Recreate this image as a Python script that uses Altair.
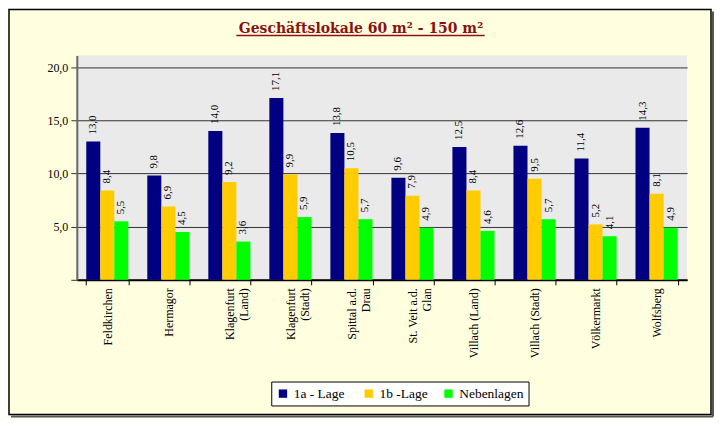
import altair as alt
import pandas as pd

NB = "\u00a0"
categories = ["Feldkirchen", "Hermagor", "Klagenfurt|(Land)", "Klagenfurt|(Stadt)",
              "Spittal a.d.|Drau", "St. Veit a.d.|Glan", "Villach (Land)",
              "Villach (Stadt)", "Völkermarkt", "Wolfsberg"]
# trailing padding per category so that short second lines sit centred
pad_second = [0, 0, 3, 3, 5, 6, 0, 0, 0, 0]
series = ["1a -  Lage", "1b -Lage", "Nebenlagen"]
lage_1a = [13.0, 9.8, 14.0, 17.1, 13.8, 9.6, 12.5, 12.6, 11.4, 14.3]
lage_1b = [8.4, 6.9, 9.2, 9.9, 10.5, 7.9, 8.4, 9.5, 5.2, 8.1]
neben = [5.5, 4.5, 3.6, 5.9, 5.7, 4.9, 4.6, 5.7, 4.1, 4.9]
colors = ["#000080", "#FFCC00", "#00FF00"]
y_ticks = [0, 5, 10, 15, 20]
title_text = "Geschäftslokale 60 m² - 150 m²"

cat_labels = []
for c, p in zip(categories, pad_second):
    if "|" in c:
        a, b = c.split("|")
        c = a + "|" + b + NB * p
    cat_labels.append(c)

rows = []
for s, vals in zip(series, [lage_1a, lage_1b, neben]):
    for c, v in zip(cat_labels, vals):
        rows.append({"cat": c, "serie": s, "val": v,
                     "lab": f"{v:.1f}".replace(".", ",")})
df = pd.DataFrame(rows)

FONT = "Liberation Serif"
W, H = 612, 225

x_enc = alt.X("cat:N", sort=cat_labels, title=None,
              scale=alt.Scale(paddingInner=0.31, paddingOuter=0.155),
              axis=alt.Axis(labelExpr="split(datum.label, '|')", labelAngle=-90,
                            labelFont=FONT, labelFontSize=12, labelColor="#000",
                            labelPadding=3, tickBand="extent", tickSize=5,
                            tickColor="#000", domainColor="#000", domainWidth=2,
                            labelLineHeight=14))
xo_enc = alt.XOffset("serie:N", sort=series, scale=alt.Scale(paddingInner=0, paddingOuter=0))
y_enc = alt.Y("val:Q", title=None,
              scale=alt.Scale(domain=[0, 21.1], nice=False, zero=True),
              axis=alt.Axis(values=y_ticks, labelFont=FONT, labelFontSize=12,
                            labelColor="#000",
                            labelExpr="datum.value == 0 ? '' : replace(format(datum.value, '.1f'), '.', ',')",
                            grid=True, gridColor="#333", gridWidth=1,
                            tickSize=6, tickColor="#333", domainColor="#666",
                            domainWidth=2, labelPadding=3))

bars = alt.Chart(df).mark_bar().encode(
    x=x_enc, xOffset=xo_enc, y=y_enc,
    color=alt.Color("serie:N", sort=series, title=None,
                    scale=alt.Scale(domain=series, range=colors),
                    legend=alt.Legend(orient="none", legendX=195, legendY=327,
                                      direction="horizontal", fillColor="white",
                                      strokeColor="#000", padding=5,
                                      symbolType="square", symbolSize=70,
                                      symbolStrokeWidth=0, labelFont=FONT,
                                      labelFontSize=13.5, labelColor="#000",
                                      columnPadding=14, labelOffset=4))
)

labels = alt.Chart(df).mark_text(angle=270, align="left", baseline="middle", dx=7,
                                 font=FONT, fontSize=11, color="#000").encode(
    x=alt.X("cat:N", sort=cat_labels), xOffset=alt.XOffset("serie:N", sort=series),
    y="val:Q", text="lab:N")

deco = pd.DataFrame([{"t": title_text}])
box = alt.Chart(deco).mark_rect(fill=None, stroke="#000", strokeWidth=1.5).encode(
    x=alt.value(-68), x2=alt.value(636), y=alt.value(-46), y2=alt.value(360))
shadow_r = alt.Chart(deco).mark_rule(stroke="#555", strokeWidth=2).encode(
    x=alt.value(638), y=alt.value(-44), y2=alt.value(362))
shadow_b = alt.Chart(deco).mark_rule(stroke="#555", strokeWidth=2).encode(
    x=alt.value(-66), x2=alt.value(638), y=alt.value(362))
title = alt.Chart(deco).mark_text(font="DejaVu Serif", fontSize=14, fontWeight="bold",
                                  color="#8B1010", baseline="alphabetic").encode(
    x=alt.value(285), y=alt.value(-23), text="t:N")
underline = alt.Chart(deco).mark_rule(stroke="#8B1010", strokeWidth=1.5).encode(
    x=alt.value(160), x2=alt.value(409), y=alt.value(-20))

chart = alt.layer(bars, labels, box, shadow_r, shadow_b, title, underline).properties(
    width=W, height=H,
    padding={"left": 69, "top": 47, "right": 27, "bottom": 138},
    autosize=alt.AutoSizeParams(type="none"),
    background="#FFFFE0",
).configure_view(fill="#EAEAEA", stroke=None)

chart.save("out.html", embed_options={"renderer": "svg", "actions": False})
